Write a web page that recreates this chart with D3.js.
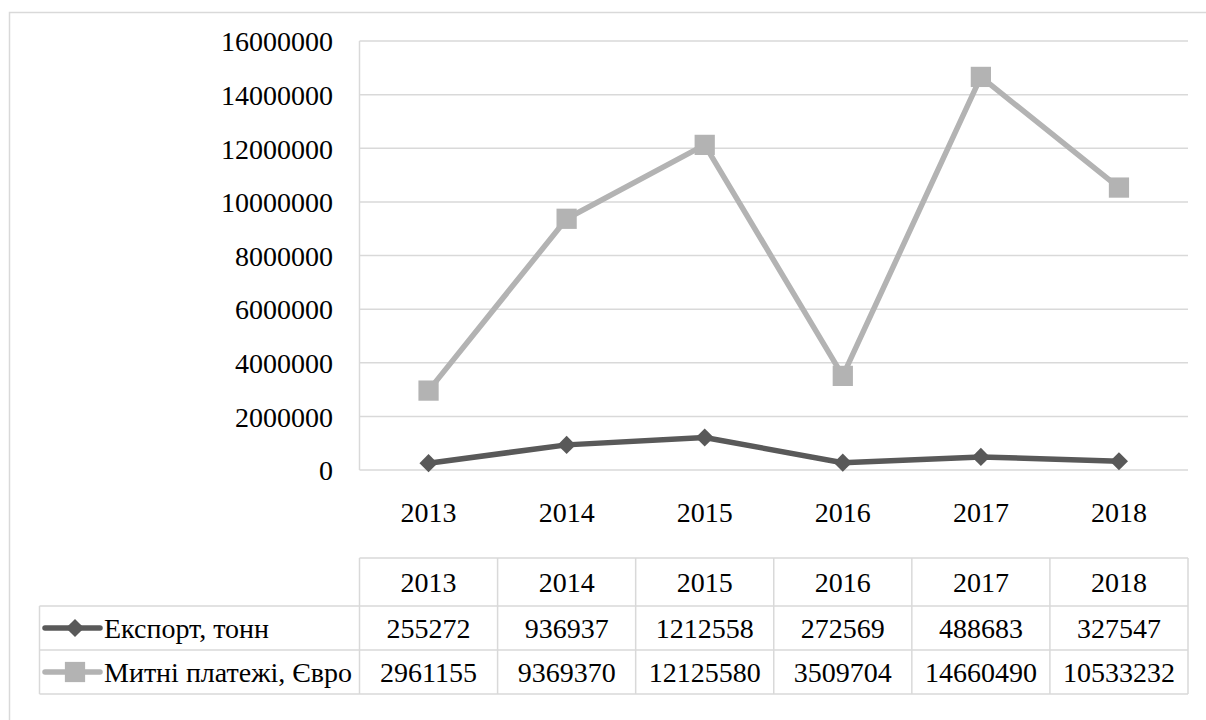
<!DOCTYPE html>
<html><head><meta charset="utf-8">
<script src="https://cdn.jsdelivr.net/npm/d3@7"></script>
<style>html,body{margin:0;padding:0;background:#fff;}svg{display:block;}</style>
</head><body>
<svg id="chart" width="1206" height="720"></svg>
<script>
const years = ["2013","2014","2015","2016","2017","2018"];
const exportTons = [255272, 936937, 1212558, 272569, 488683, 327547];
const customsEuro = [2961155, 9369370, 12125580, 3509704, 14660490, 10533232];
const seriesNames = ["Експорт, тонн", "Митні платежі, Євро"];
const yTicks = [0,2000000,4000000,6000000,8000000,10000000,12000000,14000000,16000000];

(function(){
const series = [
  {name: seriesNames[0], values: exportTons, color: "#595959", marker: "diamond"},
  {name: seriesNames[1], values: customsEuro, color: "#b3b3b3", marker: "square"}
];

const svg = d3.select("#chart");
const FF = '"Liberation Serif", "Times New Roman", serif';
const fs = "28px";
const grid = "#d9d9d9";
const styleText = sel => sel.style("font-family",FF).style("font-size",fs).style("fill","#000");

svg.append("rect").attr("x",9.5).attr("y",12.5).attr("width",1220).attr("height",740)
  .attr("fill","none").attr("stroke",grid).attr("stroke-width",1.5);

const pL = 359.5, pR = 1188, pT = 41, pB = 470;
const x = d3.scaleBand().domain(years).range([pL,pR]);
const y = d3.scaleLinear().domain([0,16000000]).range([pB,pT]);

svg.append("g").selectAll("line").data(yTicks).join("line")
  .attr("x1",pL).attr("x2",pR).attr("y1",d=>y(d)).attr("y2",d=>y(d))
  .attr("stroke",grid).attr("stroke-width",1.5);
svg.append("line").attr("x1",pL).attr("x2",pL).attr("y1",pT).attr("y2",pB)
  .attr("stroke",grid).attr("stroke-width",1.5);

const yAxis = d3.axisLeft(y).tickValues(yTicks).tickFormat(d3.format("d")).tickSize(0).tickPadding(0);
const yg = svg.append("g").attr("transform",`translate(333,0)`).call(yAxis);
yg.select(".domain").remove();
yg.selectAll("text").call(styleText).attr("dy","0.35em");

const xAxis = d3.axisBottom(x).tickSize(0).tickPadding(0);
const xg = svg.append("g").attr("transform",`translate(0,512)`).call(xAxis);
xg.select(".domain").remove();
xg.selectAll("text").call(styleText).attr("dy","0.35em");

const line = d3.line().x((d,i)=>x(years[i])+x.bandwidth()/2).y(d=>y(d));
const sym = {diamond: d3.symbol().type(d3.symbolDiamond2).size(210), square: d3.symbol().type(d3.symbolSquare).size(410)};
series.slice().reverse().forEach(s=>{
  svg.append("path").datum(s.values).attr("d",line).attr("fill","none")
    .attr("stroke",s.color).attr("stroke-width",5.5).attr("stroke-linejoin","round");
  svg.append("g").selectAll("path").data(s.values).join("path")
    .attr("d",sym[s.marker])
    .attr("transform",(d,i)=>`translate(${x(years[i])+x.bandwidth()/2},${y(d)})`)
    .attr("fill",s.color);
});

const tTop = 558, hdrBottom = 606, r1Bottom = 650, r2Bottom = 694, tLeft = 39.5;
const rowsY = [tTop, hdrBottom, r1Bottom, r2Bottom];
const tg = svg.append("g");
tg.append("line").attr("x1",pL).attr("x2",pR).attr("y1",tTop).attr("y2",tTop).attr("stroke",grid).attr("stroke-width",1.5);
[hdrBottom, r1Bottom, r2Bottom].forEach(yy=>{
  tg.append("line").attr("x1",tLeft).attr("x2",pR).attr("y1",yy).attr("y2",yy).attr("stroke",grid).attr("stroke-width",1.5);
});
tg.append("line").attr("x1",tLeft).attr("x2",tLeft).attr("y1",hdrBottom).attr("y2",r2Bottom).attr("stroke",grid).attr("stroke-width",1.5);
const colEdges = years.map(yr=>x(yr)).concat([pR]);
tg.selectAll(".vl").data(colEdges).join("line")
  .attr("x1",d=>d).attr("x2",d=>d).attr("y1",tTop).attr("y2",r2Bottom).attr("stroke",grid).attr("stroke-width",1.5);
tg.selectAll(".hdr").data(years).join("text")
  .attr("x",d=>x(d)+x.bandwidth()/2).attr("y",(tTop+hdrBottom)/2).attr("dy","0.35em")
  .attr("text-anchor","middle").call(styleText).text(d=>d);
series.forEach((s,si)=>{
  const cy = (rowsY[si+1]+rowsY[si+2])/2;
  tg.selectAll(".r"+si).data(s.values).join("text")
    .attr("x",(d,i)=>x(years[i])+x.bandwidth()/2).attr("y",cy).attr("dy","0.35em")
    .attr("text-anchor","middle").call(styleText).text(d=>d);
  tg.append("line").attr("x1",45).attr("x2",100).attr("y1",cy).attr("y2",cy)
    .attr("stroke",s.color).attr("stroke-width",5.5).attr("stroke-linecap","round");
  tg.append("path").attr("d",sym[s.marker]).attr("transform",`translate(75,${cy})`).attr("fill",s.color);
  tg.append("text").attr("x",104).attr("y",cy).attr("dy","0.35em")
    .call(styleText).text(s.name);
});
})();
</script>
</body></html>
